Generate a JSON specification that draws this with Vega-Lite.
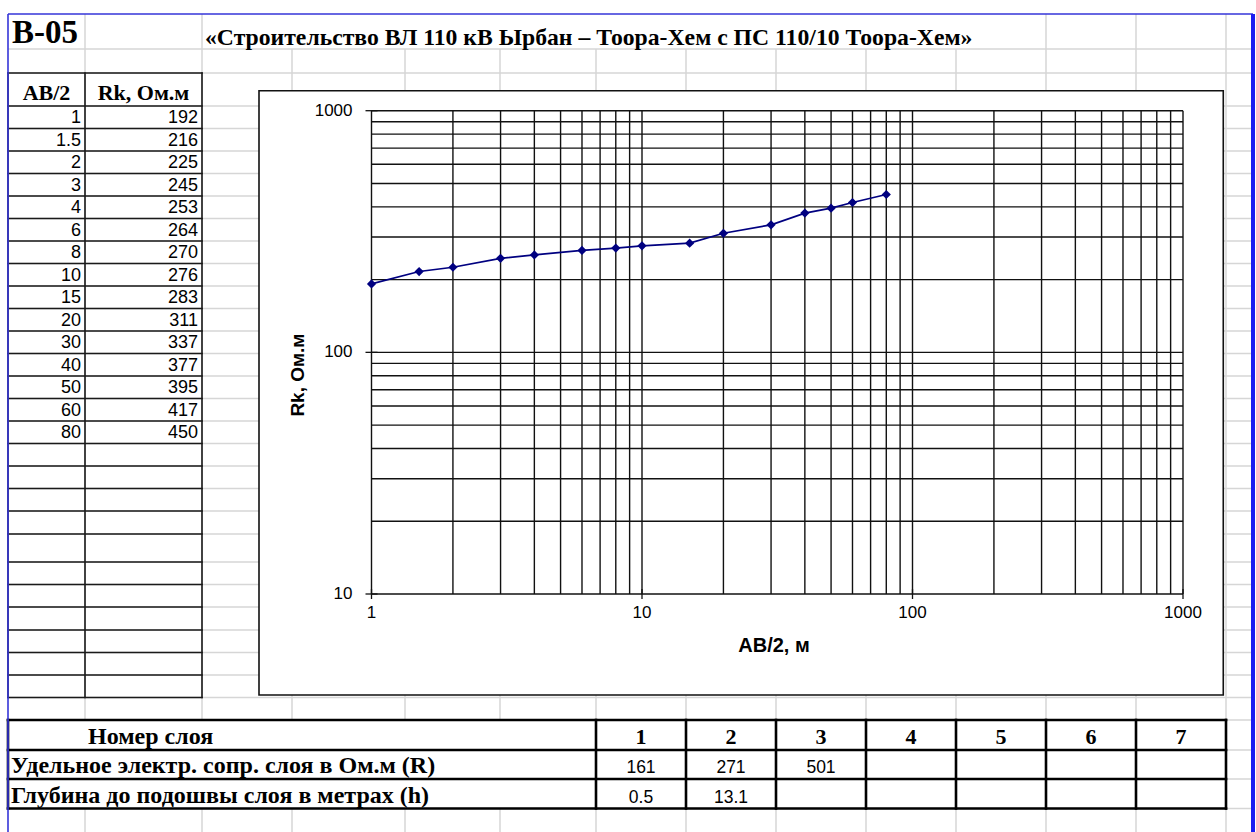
{
  "$schema": "https://vega.github.io/schema/vega-lite/v6.json",
  "width": 1256,
  "height": 832,
  "padding": 0,
  "autosize": {"type": "none"},
  "background": "white",
  "config": {"view": {"stroke": null}},
  "datasets": {
    "vez": [
      {"ab": 1, "rk": 192, "row": 4},
      {"ab": 1.5, "rk": 216, "row": 5},
      {"ab": 2, "rk": 225, "row": 6},
      {"ab": 3, "rk": 245, "row": 7},
      {"ab": 4, "rk": 253, "row": 8},
      {"ab": 6, "rk": 264, "row": 9},
      {"ab": 8, "rk": 270, "row": 10},
      {"ab": 10, "rk": 276, "row": 11},
      {"ab": 15, "rk": 283, "row": 12},
      {"ab": 20, "rk": 311, "row": 13},
      {"ab": 30, "rk": 337, "row": 14},
      {"ab": 40, "rk": 377, "row": 15},
      {"ab": 50, "rk": 395, "row": 16},
      {"ab": 60, "rk": 417, "row": 17},
      {"ab": 80, "rk": 450, "row": 18}
    ],
    "cells": [
      {"kind": "id", "col": 0, "row": 1, "text": "B-05"},
      {"kind": "title", "col": 2, "row": 1, "text": "«Строительство ВЛ 110 кВ Ырбан – Тоора-Хем с ПС 110/10 Тоора-Хем»"},
      {"kind": "head", "col": 0.5, "row": 3, "text": "AB/2"},
      {"kind": "head", "col": 1.5, "row": 3, "text": "Rk, Ом.м"},
      {"kind": "rowlab", "col": 1, "row": 31, "text": "Номер слоя"},
      {"kind": "rowlab", "col": 0, "row": 32, "text": "Удельное электр. сопр. слоя в Ом.м (R)"},
      {"kind": "rowlab", "col": 0, "row": 33, "text": "Глубина до подошвы слоя в метрах (h)"},
      {"kind": "head", "col": 6.5, "row": 31, "text": "1"},
      {"kind": "head", "col": 7.5, "row": 31, "text": "2"},
      {"kind": "head", "col": 8.5, "row": 31, "text": "3"},
      {"kind": "head", "col": 9.5, "row": 31, "text": "4"},
      {"kind": "head", "col": 10.5, "row": 31, "text": "5"},
      {"kind": "head", "col": 11.5, "row": 31, "text": "6"},
      {"kind": "head", "col": 12.5, "row": 31, "text": "7"},
      {"kind": "val", "col": 6.5, "row": 32, "text": "161"},
      {"kind": "val", "col": 7.5, "row": 32, "text": "271"},
      {"kind": "val", "col": 8.5, "row": 32, "text": "501"},
      {"kind": "val", "col": 6.5, "row": 33, "text": "0.5"},
      {"kind": "val", "col": 7.5, "row": 33, "text": "13.1"}
    ],
    "lines": [
      {"kind": "gray", "x0": 1, "x1": 1, "y0": 0, "y1": 30},
      {"kind": "gray", "x0": 1, "x1": 1, "y0": 33, "y1": 34},
      {"kind": "gray", "x0": 2, "x1": 2, "y0": 0, "y1": 30},
      {"kind": "gray", "x0": 2, "x1": 2, "y0": 33, "y1": 34},
      {"kind": "gray", "x0": 3, "x1": 3, "y0": 1, "y1": 30},
      {"kind": "gray", "x0": 3, "x1": 3, "y0": 33, "y1": 34},
      {"kind": "gray", "x0": 4, "x1": 4, "y0": 1, "y1": 30},
      {"kind": "gray", "x0": 4, "x1": 4, "y0": 33, "y1": 34},
      {"kind": "gray", "x0": 5, "x1": 5, "y0": 1, "y1": 30},
      {"kind": "gray", "x0": 5, "x1": 5, "y0": 33, "y1": 34},
      {"kind": "gray", "x0": 6, "x1": 6, "y0": 1, "y1": 34},
      {"kind": "gray", "x0": 7, "x1": 7, "y0": 1, "y1": 34},
      {"kind": "gray", "x0": 8, "x1": 8, "y0": 1, "y1": 34},
      {"kind": "gray", "x0": 9, "x1": 9, "y0": 1, "y1": 34},
      {"kind": "gray", "x0": 10, "x1": 10, "y0": 1, "y1": 34},
      {"kind": "gray", "x0": 11, "x1": 11, "y0": 0, "y1": 34},
      {"kind": "gray", "x0": 12, "x1": 12, "y0": 0, "y1": 34},
      {"kind": "gray", "x0": 13, "x1": 13, "y0": 0, "y1": 34},
      {"kind": "gray", "x0": 0, "x1": 14, "y0": 1, "y1": 1},
      {"kind": "gray", "x0": 0, "x1": 14, "y0": 2, "y1": 2},
      {"kind": "gray", "x0": 0, "x1": 14, "y0": 3, "y1": 3},
      {"kind": "gray", "x0": 0, "x1": 14, "y0": 4, "y1": 4},
      {"kind": "gray", "x0": 0, "x1": 14, "y0": 5, "y1": 5},
      {"kind": "gray", "x0": 0, "x1": 14, "y0": 6, "y1": 6},
      {"kind": "gray", "x0": 0, "x1": 14, "y0": 7, "y1": 7},
      {"kind": "gray", "x0": 0, "x1": 14, "y0": 8, "y1": 8},
      {"kind": "gray", "x0": 0, "x1": 14, "y0": 9, "y1": 9},
      {"kind": "gray", "x0": 0, "x1": 14, "y0": 10, "y1": 10},
      {"kind": "gray", "x0": 0, "x1": 14, "y0": 11, "y1": 11},
      {"kind": "gray", "x0": 0, "x1": 14, "y0": 12, "y1": 12},
      {"kind": "gray", "x0": 0, "x1": 14, "y0": 13, "y1": 13},
      {"kind": "gray", "x0": 0, "x1": 14, "y0": 14, "y1": 14},
      {"kind": "gray", "x0": 0, "x1": 14, "y0": 15, "y1": 15},
      {"kind": "gray", "x0": 0, "x1": 14, "y0": 16, "y1": 16},
      {"kind": "gray", "x0": 0, "x1": 14, "y0": 17, "y1": 17},
      {"kind": "gray", "x0": 0, "x1": 14, "y0": 18, "y1": 18},
      {"kind": "gray", "x0": 0, "x1": 14, "y0": 19, "y1": 19},
      {"kind": "gray", "x0": 0, "x1": 14, "y0": 20, "y1": 20},
      {"kind": "gray", "x0": 0, "x1": 14, "y0": 21, "y1": 21},
      {"kind": "gray", "x0": 0, "x1": 14, "y0": 22, "y1": 22},
      {"kind": "gray", "x0": 0, "x1": 14, "y0": 23, "y1": 23},
      {"kind": "gray", "x0": 0, "x1": 14, "y0": 24, "y1": 24},
      {"kind": "gray", "x0": 0, "x1": 14, "y0": 25, "y1": 25},
      {"kind": "gray", "x0": 0, "x1": 14, "y0": 26, "y1": 26},
      {"kind": "gray", "x0": 0, "x1": 14, "y0": 27, "y1": 27},
      {"kind": "gray", "x0": 0, "x1": 14, "y0": 28, "y1": 28},
      {"kind": "gray", "x0": 0, "x1": 14, "y0": 29, "y1": 29},
      {"kind": "gray", "x0": 0, "x1": 14, "y0": 30, "y1": 30},
      {"kind": "gray", "x0": 0, "x1": 14, "y0": 31, "y1": 31},
      {"kind": "gray", "x0": 0, "x1": 14, "y0": 32, "y1": 32},
      {"kind": "gray", "x0": 0, "x1": 14, "y0": 33, "y1": 33},
      {"kind": "gray", "x0": 0, "x1": 14, "y0": 34, "y1": 34},
      {"kind": "black", "x0": 0, "x1": 0, "y0": 2, "y1": 29},
      {"kind": "black", "x0": 1, "x1": 1, "y0": 2, "y1": 29},
      {"kind": "black", "x0": 2, "x1": 2, "y0": 2, "y1": 29},
      {"kind": "black", "x0": 0, "x1": 2, "y0": 2, "y1": 2},
      {"kind": "black", "x0": 0, "x1": 2, "y0": 3, "y1": 3},
      {"kind": "black", "x0": 0, "x1": 2, "y0": 4, "y1": 4},
      {"kind": "black", "x0": 0, "x1": 2, "y0": 5, "y1": 5},
      {"kind": "black", "x0": 0, "x1": 2, "y0": 6, "y1": 6},
      {"kind": "black", "x0": 0, "x1": 2, "y0": 7, "y1": 7},
      {"kind": "black", "x0": 0, "x1": 2, "y0": 8, "y1": 8},
      {"kind": "black", "x0": 0, "x1": 2, "y0": 9, "y1": 9},
      {"kind": "black", "x0": 0, "x1": 2, "y0": 10, "y1": 10},
      {"kind": "black", "x0": 0, "x1": 2, "y0": 11, "y1": 11},
      {"kind": "black", "x0": 0, "x1": 2, "y0": 12, "y1": 12},
      {"kind": "black", "x0": 0, "x1": 2, "y0": 13, "y1": 13},
      {"kind": "black", "x0": 0, "x1": 2, "y0": 14, "y1": 14},
      {"kind": "black", "x0": 0, "x1": 2, "y0": 15, "y1": 15},
      {"kind": "black", "x0": 0, "x1": 2, "y0": 16, "y1": 16},
      {"kind": "black", "x0": 0, "x1": 2, "y0": 17, "y1": 17},
      {"kind": "black", "x0": 0, "x1": 2, "y0": 18, "y1": 18},
      {"kind": "black", "x0": 0, "x1": 2, "y0": 19, "y1": 19},
      {"kind": "black", "x0": 0, "x1": 2, "y0": 20, "y1": 20},
      {"kind": "black", "x0": 0, "x1": 2, "y0": 21, "y1": 21},
      {"kind": "black", "x0": 0, "x1": 2, "y0": 22, "y1": 22},
      {"kind": "black", "x0": 0, "x1": 2, "y0": 23, "y1": 23},
      {"kind": "black", "x0": 0, "x1": 2, "y0": 24, "y1": 24},
      {"kind": "black", "x0": 0, "x1": 2, "y0": 25, "y1": 25},
      {"kind": "black", "x0": 0, "x1": 2, "y0": 26, "y1": 26},
      {"kind": "black", "x0": 0, "x1": 2, "y0": 27, "y1": 27},
      {"kind": "black", "x0": 0, "x1": 2, "y0": 28, "y1": 28},
      {"kind": "black", "x0": 0, "x1": 2, "y0": 29, "y1": 29},
      {"kind": "thick", "x0": 0, "x1": 13, "y0": 30, "y1": 30},
      {"kind": "thick", "x0": 0, "x1": 13, "y0": 31, "y1": 31},
      {"kind": "thick", "x0": 0, "x1": 13, "y0": 32, "y1": 32},
      {"kind": "thick", "x0": 0, "x1": 13, "y0": 33, "y1": 33},
      {"kind": "thick", "x0": 0, "x1": 0, "y0": 30, "y1": 33},
      {"kind": "thick", "x0": 6, "x1": 6, "y0": 30, "y1": 33},
      {"kind": "thick", "x0": 7, "x1": 7, "y0": 30, "y1": 33},
      {"kind": "thick", "x0": 8, "x1": 8, "y0": 30, "y1": 33},
      {"kind": "thick", "x0": 9, "x1": 9, "y0": 30, "y1": 33},
      {"kind": "thick", "x0": 10, "x1": 10, "y0": 30, "y1": 33},
      {"kind": "thick", "x0": 11, "x1": 11, "y0": 30, "y1": 33},
      {"kind": "thick", "x0": 12, "x1": 12, "y0": 30, "y1": 33},
      {"kind": "thick", "x0": 13, "x1": 13, "y0": 30, "y1": 33},
      {"kind": "blue", "x0": 0, "x1": 0, "y0": 0, "y1": 34},
      {"kind": "blue", "x0": 0, "x1": 14, "y0": 0, "y1": 0},
      {"kind": "bluethick", "x0": 14, "x1": 14, "y0": 0, "y1": 34}
    ],
    "xgrid": [
      {"v": 1}, {"v": 2}, {"v": 3}, {"v": 4}, {"v": 5}, {"v": 6}, {"v": 7}, {"v": 8}, {"v": 9},
      {"v": 10}, {"v": 20}, {"v": 30}, {"v": 40}, {"v": 50}, {"v": 60}, {"v": 70}, {"v": 80}, {"v": 90},
      {"v": 100}, {"v": 200}, {"v": 300}, {"v": 400}, {"v": 500}, {"v": 600}, {"v": 700}, {"v": 800}, {"v": 900},
      {"v": 1000}
    ],
    "ygrid": [
      {"v": 10}, {"v": 20}, {"v": 30}, {"v": 40}, {"v": 50}, {"v": 60}, {"v": 70}, {"v": 80}, {"v": 90},
      {"v": 100}, {"v": 200}, {"v": 300}, {"v": 400}, {"v": 500}, {"v": 600}, {"v": 700}, {"v": 800}, {"v": 900},
      {"v": 1000}
    ],
    "xmaj": [{"v": 1}, {"v": 10}, {"v": 100}, {"v": 1000}],
    "ymaj": [{"v": 10}, {"v": 100}, {"v": 1000}]
  },
  "layer": [
    {
      "layer": [
        {
          "data": {"name": "lines"},
          "transform": [{"filter": "datum.kind === 'gray'"}],
          "mark": {"type": "rule", "color": "#d6d6d6", "strokeWidth": 1.5},
          "encoding": {
            "x": {"field": "x0", "type": "quantitative", "axis": null, "scale": {"type": "linear", "domain": [0,1,2,3,4,5,6,7,8,9,10,11,12,13,14], "range": [8,85,202,292,405,500,596,686,776,866,956,1046,1136,1226,1253], "nice": false, "zero": false}},
            "x2": {"field": "x1"},
            "y": {"field": "y0", "type": "quantitative", "axis": null, "scale": {"type": "linear", "domain": [0,1,2,3,4,5,6,7,8,9,10,11,12,13,14,15,16,17,18,19,20,21,22,23,24,25,26,27,28,29,30,31,32,33,34], "range": [14,49,73,106,128.5,151,173.5,196,218.5,241,263.5,286,308.5,331,353.5,376,398.5,421,443.5,466,488.5,511,534,562,584.5,607,630,652.5,675,697.5,720,750,779,808.5,838], "nice": false, "zero": false}},
            "y2": {"field": "y1"}
          }
        },
        {
          "data": {"name": "lines"},
          "transform": [{"filter": "datum.kind === 'black'"}],
          "mark": {"type": "rule", "color": "#1a1a1a", "strokeWidth": 1.6, "strokeCap": "square"},
          "encoding": {
            "x": {"field": "x0", "type": "quantitative", "axis": null, "scale": {"type": "linear", "domain": [0,1,2,3,4,5,6,7,8,9,10,11,12,13,14], "range": [8,85,202,292,405,500,596,686,776,866,956,1046,1136,1226,1253], "nice": false, "zero": false}},
            "x2": {"field": "x1"},
            "y": {"field": "y0", "type": "quantitative", "axis": null, "scale": {"type": "linear", "domain": [0,1,2,3,4,5,6,7,8,9,10,11,12,13,14,15,16,17,18,19,20,21,22,23,24,25,26,27,28,29,30,31,32,33,34], "range": [14,49,73,106,128.5,151,173.5,196,218.5,241,263.5,286,308.5,331,353.5,376,398.5,421,443.5,466,488.5,511,534,562,584.5,607,630,652.5,675,697.5,720,750,779,808.5,838], "nice": false, "zero": false}},
            "y2": {"field": "y1"}
          }
        },
        {
          "data": {"name": "lines"},
          "transform": [{"filter": "datum.kind === 'thick'"}],
          "mark": {"type": "rule", "color": "#000000", "strokeWidth": 2.6, "strokeCap": "square"},
          "encoding": {
            "x": {"field": "x0", "type": "quantitative", "axis": null, "scale": {"type": "linear", "domain": [0,1,2,3,4,5,6,7,8,9,10,11,12,13,14], "range": [8,85,202,292,405,500,596,686,776,866,956,1046,1136,1226,1253], "nice": false, "zero": false}},
            "x2": {"field": "x1"},
            "y": {"field": "y0", "type": "quantitative", "axis": null, "scale": {"type": "linear", "domain": [0,1,2,3,4,5,6,7,8,9,10,11,12,13,14,15,16,17,18,19,20,21,22,23,24,25,26,27,28,29,30,31,32,33,34], "range": [14,49,73,106,128.5,151,173.5,196,218.5,241,263.5,286,308.5,331,353.5,376,398.5,421,443.5,466,488.5,511,534,562,584.5,607,630,652.5,675,697.5,720,750,779,808.5,838], "nice": false, "zero": false}},
            "y2": {"field": "y1"}
          }
        },
        {
          "data": {"name": "lines"},
          "transform": [{"filter": "datum.kind === 'blue'"}],
          "mark": {"type": "rule", "color": "#3535d8", "strokeWidth": 1.6},
          "encoding": {
            "x": {"field": "x0", "type": "quantitative", "axis": null, "scale": {"type": "linear", "domain": [0,1,2,3,4,5,6,7,8,9,10,11,12,13,14], "range": [8,85,202,292,405,500,596,686,776,866,956,1046,1136,1226,1253], "nice": false, "zero": false}},
            "x2": {"field": "x1"},
            "y": {"field": "y0", "type": "quantitative", "axis": null, "scale": {"type": "linear", "domain": [0,1,2,3,4,5,6,7,8,9,10,11,12,13,14,15,16,17,18,19,20,21,22,23,24,25,26,27,28,29,30,31,32,33,34], "range": [14,49,73,106,128.5,151,173.5,196,218.5,241,263.5,286,308.5,331,353.5,376,398.5,421,443.5,466,488.5,511,534,562,584.5,607,630,652.5,675,697.5,720,750,779,808.5,838], "nice": false, "zero": false}},
            "y2": {"field": "y1"}
          }
        },
        {
          "data": {"name": "lines"},
          "transform": [{"filter": "datum.kind === 'bluethick'"}],
          "mark": {"type": "rule", "color": "#1c1cf0", "strokeWidth": 4},
          "encoding": {
            "x": {"field": "x0", "type": "quantitative", "axis": null, "scale": {"type": "linear", "domain": [0,1,2,3,4,5,6,7,8,9,10,11,12,13,14], "range": [8,85,202,292,405,500,596,686,776,866,956,1046,1136,1226,1253], "nice": false, "zero": false}},
            "x2": {"field": "x1"},
            "y": {"field": "y0", "type": "quantitative", "axis": null, "scale": {"type": "linear", "domain": [0,1,2,3,4,5,6,7,8,9,10,11,12,13,14,15,16,17,18,19,20,21,22,23,24,25,26,27,28,29,30,31,32,33,34], "range": [14,49,73,106,128.5,151,173.5,196,218.5,241,263.5,286,308.5,331,353.5,376,398.5,421,443.5,466,488.5,511,534,562,584.5,607,630,652.5,675,697.5,720,750,779,808.5,838], "nice": false, "zero": false}},
            "y2": {"field": "y1"}
          }
        },
        {
          "data": {"name": "cells"},
          "transform": [{"filter": "datum.kind === 'id'"}],
          "mark": {"type": "text", "font": "Liberation Serif", "fontWeight": "bold", "fontSize": 33, "align": "left", "baseline": "alphabetic", "dx": 4, "dy": -6, "color": "#000"},
          "encoding": {
            "x": {"field": "col", "type": "quantitative", "axis": null, "scale": {"type": "linear", "domain": [0,1,2,3,4,5,6,7,8,9,10,11,12,13,14], "range": [8,85,202,292,405,500,596,686,776,866,956,1046,1136,1226,1253], "nice": false, "zero": false}},
            "y": {"field": "row", "type": "quantitative", "axis": null, "scale": {"type": "linear", "domain": [0,1,2,3,4,5,6,7,8,9,10,11,12,13,14,15,16,17,18,19,20,21,22,23,24,25,26,27,28,29,30,31,32,33,34], "range": [14,49,73,106,128.5,151,173.5,196,218.5,241,263.5,286,308.5,331,353.5,376,398.5,421,443.5,466,488.5,511,534,562,584.5,607,630,652.5,675,697.5,720,750,779,808.5,838], "nice": false, "zero": false}},
            "text": {"field": "text", "type": "nominal"}
          }
        },
        {
          "data": {"name": "cells"},
          "transform": [{"filter": "datum.kind === 'title'"}],
          "mark": {"type": "text", "font": "Liberation Serif", "fontWeight": "bold", "fontSize": 23.7, "align": "left", "baseline": "alphabetic", "dx": 3, "dy": -4, "color": "#000"},
          "encoding": {
            "x": {"field": "col", "type": "quantitative", "axis": null, "scale": {"type": "linear", "domain": [0,1,2,3,4,5,6,7,8,9,10,11,12,13,14], "range": [8,85,202,292,405,500,596,686,776,866,956,1046,1136,1226,1253], "nice": false, "zero": false}},
            "y": {"field": "row", "type": "quantitative", "axis": null, "scale": {"type": "linear", "domain": [0,1,2,3,4,5,6,7,8,9,10,11,12,13,14,15,16,17,18,19,20,21,22,23,24,25,26,27,28,29,30,31,32,33,34], "range": [14,49,73,106,128.5,151,173.5,196,218.5,241,263.5,286,308.5,331,353.5,376,398.5,421,443.5,466,488.5,511,534,562,584.5,607,630,652.5,675,697.5,720,750,779,808.5,838], "nice": false, "zero": false}},
            "text": {"field": "text", "type": "nominal"}
          }
        },
        {
          "data": {"name": "cells"},
          "transform": [{"filter": "datum.kind === 'head'"}],
          "mark": {"type": "text", "font": "Liberation Serif", "fontWeight": "bold", "fontSize": 22, "align": "center", "baseline": "alphabetic", "dy": -6, "color": "#000"},
          "encoding": {
            "x": {"field": "col", "type": "quantitative", "axis": null, "scale": {"type": "linear", "domain": [0,1,2,3,4,5,6,7,8,9,10,11,12,13,14], "range": [8,85,202,292,405,500,596,686,776,866,956,1046,1136,1226,1253], "nice": false, "zero": false}},
            "y": {"field": "row", "type": "quantitative", "axis": null, "scale": {"type": "linear", "domain": [0,1,2,3,4,5,6,7,8,9,10,11,12,13,14,15,16,17,18,19,20,21,22,23,24,25,26,27,28,29,30,31,32,33,34], "range": [14,49,73,106,128.5,151,173.5,196,218.5,241,263.5,286,308.5,331,353.5,376,398.5,421,443.5,466,488.5,511,534,562,584.5,607,630,652.5,675,697.5,720,750,779,808.5,838], "nice": false, "zero": false}},
            "text": {"field": "text", "type": "nominal"}
          }
        },
        {
          "data": {"name": "cells"},
          "transform": [{"filter": "datum.kind === 'rowlab'"}],
          "mark": {"type": "text", "font": "Liberation Serif", "fontWeight": "bold", "fontSize": 24, "align": "left", "baseline": "alphabetic", "dx": 3, "dy": -6, "color": "#000"},
          "encoding": {
            "x": {"field": "col", "type": "quantitative", "axis": null, "scale": {"type": "linear", "domain": [0,1,2,3,4,5,6,7,8,9,10,11,12,13,14], "range": [8,85,202,292,405,500,596,686,776,866,956,1046,1136,1226,1253], "nice": false, "zero": false}},
            "y": {"field": "row", "type": "quantitative", "axis": null, "scale": {"type": "linear", "domain": [0,1,2,3,4,5,6,7,8,9,10,11,12,13,14,15,16,17,18,19,20,21,22,23,24,25,26,27,28,29,30,31,32,33,34], "range": [14,49,73,106,128.5,151,173.5,196,218.5,241,263.5,286,308.5,331,353.5,376,398.5,421,443.5,466,488.5,511,534,562,584.5,607,630,652.5,675,697.5,720,750,779,808.5,838], "nice": false, "zero": false}},
            "text": {"field": "text", "type": "nominal"}
          }
        },
        {
          "data": {"name": "cells"},
          "transform": [{"filter": "datum.kind === 'val'"}],
          "mark": {"type": "text", "font": "Liberation Sans", "fontSize": 17.5, "align": "center", "baseline": "alphabetic", "dy": -6, "color": "#000"},
          "encoding": {
            "x": {"field": "col", "type": "quantitative", "axis": null, "scale": {"type": "linear", "domain": [0,1,2,3,4,5,6,7,8,9,10,11,12,13,14], "range": [8,85,202,292,405,500,596,686,776,866,956,1046,1136,1226,1253], "nice": false, "zero": false}},
            "y": {"field": "row", "type": "quantitative", "axis": null, "scale": {"type": "linear", "domain": [0,1,2,3,4,5,6,7,8,9,10,11,12,13,14,15,16,17,18,19,20,21,22,23,24,25,26,27,28,29,30,31,32,33,34], "range": [14,49,73,106,128.5,151,173.5,196,218.5,241,263.5,286,308.5,331,353.5,376,398.5,421,443.5,466,488.5,511,534,562,584.5,607,630,652.5,675,697.5,720,750,779,808.5,838], "nice": false, "zero": false}},
            "text": {"field": "text", "type": "nominal"}
          }
        },
        {
          "data": {"name": "vez"},
          "mark": {"type": "text", "font": "Liberation Sans", "fontSize": 18, "align": "right", "baseline": "alphabetic", "dx": -4, "dy": -5.5, "color": "#000"},
          "encoding": {
            "x": {"datum": 1, "type": "quantitative", "axis": null, "scale": {"type": "linear", "domain": [0,1,2,3,4,5,6,7,8,9,10,11,12,13,14], "range": [8,85,202,292,405,500,596,686,776,866,956,1046,1136,1226,1253], "nice": false, "zero": false}},
            "y": {"field": "row", "type": "quantitative", "axis": null, "scale": {"type": "linear", "domain": [0,1,2,3,4,5,6,7,8,9,10,11,12,13,14,15,16,17,18,19,20,21,22,23,24,25,26,27,28,29,30,31,32,33,34], "range": [14,49,73,106,128.5,151,173.5,196,218.5,241,263.5,286,308.5,331,353.5,376,398.5,421,443.5,466,488.5,511,534,562,584.5,607,630,652.5,675,697.5,720,750,779,808.5,838], "nice": false, "zero": false}},
            "text": {"field": "ab", "type": "nominal"}
          }
        },
        {
          "data": {"name": "vez"},
          "mark": {"type": "text", "font": "Liberation Sans", "fontSize": 18, "align": "right", "baseline": "alphabetic", "dx": -4, "dy": -5.5, "color": "#000"},
          "encoding": {
            "x": {"datum": 2, "type": "quantitative", "axis": null, "scale": {"type": "linear", "domain": [0,1,2,3,4,5,6,7,8,9,10,11,12,13,14], "range": [8,85,202,292,405,500,596,686,776,866,956,1046,1136,1226,1253], "nice": false, "zero": false}},
            "y": {"field": "row", "type": "quantitative", "axis": null, "scale": {"type": "linear", "domain": [0,1,2,3,4,5,6,7,8,9,10,11,12,13,14,15,16,17,18,19,20,21,22,23,24,25,26,27,28,29,30,31,32,33,34], "range": [14,49,73,106,128.5,151,173.5,196,218.5,241,263.5,286,308.5,331,353.5,376,398.5,421,443.5,466,488.5,511,534,562,584.5,607,630,652.5,675,697.5,720,750,779,808.5,838], "nice": false, "zero": false}},
            "text": {"field": "rk", "type": "nominal"}
          }
        }
      ]
    },
    {
      "layer": [
        {
          "data": {"values": [{}]},
          "mark": {"type": "rect", "fill": "white", "stroke": "#111", "strokeWidth": 1.6},
          "encoding": {
            "x": {"datum": 0.3838, "type": "quantitative", "axis": null, "scale": {"type": "log", "domain": [1, 1000], "range": [371.5, 1183], "nice": false}},
            "x2": {"datum": 1409},
            "y": {"datum": 3.82, "type": "quantitative", "axis": null, "scale": {"type": "log", "domain": [10, 1000], "range": [594, 110.7], "nice": false}},
            "y2": {"datum": 1210}
          }
        },
        {
          "data": {"name": "xgrid"},
          "mark": {"type": "rule", "color": "#111", "strokeWidth": 1.4},
          "encoding": {
            "x": {"field": "v", "type": "quantitative", "axis": null, "scale": {"type": "log", "domain": [1, 1000], "range": [371.5, 1183], "nice": false}},
            "y": {"datum": 10, "type": "quantitative", "axis": null, "scale": {"type": "log", "domain": [10, 1000], "range": [594, 110.7], "nice": false}},
            "y2": {"datum": 1000}
          }
        },
        {
          "data": {"name": "ygrid"},
          "mark": {"type": "rule", "color": "#111", "strokeWidth": 1.4},
          "encoding": {
            "y": {"field": "v", "type": "quantitative", "axis": null, "scale": {"type": "log", "domain": [10, 1000], "range": [594, 110.7], "nice": false}},
            "x": {"datum": 1, "type": "quantitative", "axis": null, "scale": {"type": "log", "domain": [1, 1000], "range": [371.5, 1183], "nice": false}},
            "x2": {"datum": 1000}
          }
        },
        {
          "data": {"name": "xmaj"},
          "mark": {"type": "tick", "orient": "vertical", "size": 10, "thickness": 1.3, "color": "#111", "opacity": 1},
          "encoding": {
            "x": {"field": "v", "type": "quantitative", "axis": null, "scale": {"type": "log", "domain": [1, 1000], "range": [371.5, 1183], "nice": false}},
            "y": {"datum": 10, "type": "quantitative", "axis": null, "scale": {"type": "log", "domain": [10, 1000], "range": [594, 110.7], "nice": false}}
          }
        },
        {
          "data": {"name": "ymaj"},
          "mark": {"type": "tick", "orient": "horizontal", "size": 12, "thickness": 1.3, "color": "#111", "opacity": 1},
          "encoding": {
            "y": {"field": "v", "type": "quantitative", "axis": null, "scale": {"type": "log", "domain": [10, 1000], "range": [594, 110.7], "nice": false}},
            "x": {"datum": 1, "type": "quantitative", "axis": null, "scale": {"type": "log", "domain": [1, 1000], "range": [371.5, 1183], "nice": false}}
          }
        },
        {
          "data": {"name": "xmaj"},
          "mark": {"type": "text", "font": "Liberation Sans", "fontSize": 17, "align": "center", "baseline": "middle", "dy": 19, "color": "#000"},
          "encoding": {
            "x": {"field": "v", "type": "quantitative", "axis": null, "scale": {"type": "log", "domain": [1, 1000], "range": [371.5, 1183], "nice": false}},
            "y": {"datum": 10, "type": "quantitative", "axis": null, "scale": {"type": "log", "domain": [10, 1000], "range": [594, 110.7], "nice": false}},
            "text": {"field": "v", "type": "nominal"}
          }
        },
        {
          "data": {"name": "ymaj"},
          "mark": {"type": "text", "font": "Liberation Sans", "fontSize": 17, "align": "right", "baseline": "middle", "dx": -19, "color": "#000"},
          "encoding": {
            "y": {"field": "v", "type": "quantitative", "axis": null, "scale": {"type": "log", "domain": [10, 1000], "range": [594, 110.7], "nice": false}},
            "x": {"datum": 1, "type": "quantitative", "axis": null, "scale": {"type": "log", "domain": [1, 1000], "range": [371.5, 1183], "nice": false}},
            "text": {"field": "v", "type": "nominal"}
          }
        },
        {
          "data": {"values": [{"label": "AB/2, м"}]},
          "mark": {"type": "text", "font": "Liberation Sans", "fontWeight": "bold", "fontSize": 20, "align": "center", "baseline": "middle", "dy": 52, "color": "#000"},
          "encoding": {
            "x": {"datum": 30.76, "type": "quantitative", "axis": null, "scale": {"type": "log", "domain": [1, 1000], "range": [371.5, 1183], "nice": false}},
            "y": {"datum": 10, "type": "quantitative", "axis": null, "scale": {"type": "log", "domain": [10, 1000], "range": [594, 110.7], "nice": false}},
            "text": {"field": "label", "type": "nominal"}
          }
        },
        {
          "data": {"values": [{"label": "Rk, Ом.м"}]},
          "mark": {"type": "text", "font": "Liberation Sans", "fontWeight": "bold", "fontSize": 19, "align": "center", "baseline": "middle", "angle": 270, "color": "#000"},
          "encoding": {
            "x": {"datum": 0.537, "type": "quantitative", "axis": null, "scale": {"type": "log", "domain": [1, 1000], "range": [371.5, 1183], "nice": false}},
            "y": {"datum": 80.5, "type": "quantitative", "axis": null, "scale": {"type": "log", "domain": [10, 1000], "range": [594, 110.7], "nice": false}},
            "text": {"field": "label", "type": "nominal"}
          }
        },
        {
          "data": {"name": "vez"},
          "mark": {"type": "line", "color": "#000080", "strokeWidth": 1.7, "point": {"shape": "diamond", "size": 85, "filled": true, "color": "#000080", "opacity": 1}},
          "encoding": {
            "x": {"field": "ab", "type": "quantitative", "axis": null, "scale": {"type": "log", "domain": [1, 1000], "range": [371.5, 1183], "nice": false}},
            "y": {"field": "rk", "type": "quantitative", "axis": null, "scale": {"type": "log", "domain": [10, 1000], "range": [594, 110.7], "nice": false}}
          }
        }
      ]
    }
  ],
  "resolve": {"scale": {"x": "independent", "y": "independent"}}
}
